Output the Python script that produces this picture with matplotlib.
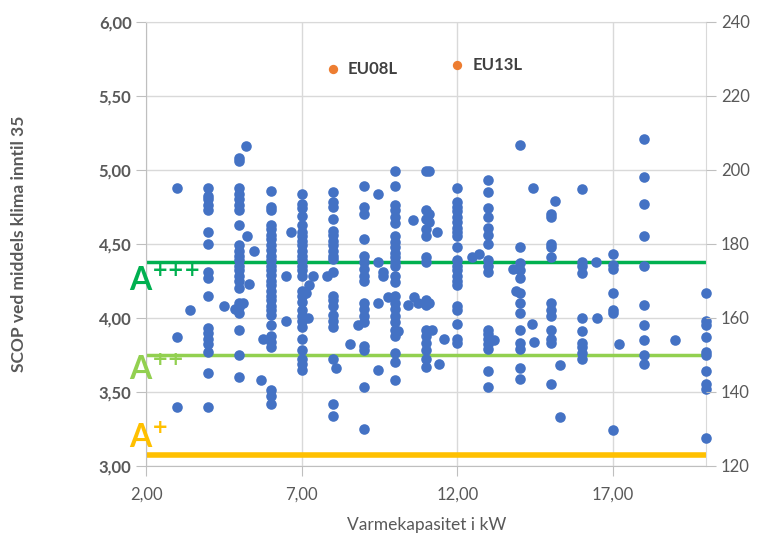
import numpy as np
import matplotlib.pyplot as plt

plt.rcParams['font.family'] = ['Lato', 'DejaVu Sans']

# SCOP values per heat pump, grouped by rated capacity (kW)
kw3 = [4.88, 3.87, 3.40]
kw4 = [4.88, 4.82, 4.80, 4.76, 4.73, 4.58, 4.50, 4.31, 4.27, 4.15, 3.93, 3.90,
       3.86, 3.82, 3.77, 3.63, 3.40]
kw5 = [5.08, 5.06, 4.88, 4.84, 4.80, 4.76, 4.73, 4.63, 4.49, 4.45, 4.42, 4.39,
       4.35, 4.32, 4.28, 4.25, 4.20, 4.10, 4.07, 4.03, 3.92, 3.75, 3.60]
kw6 = [4.86, 4.75, 4.73, 4.63, 4.60, 4.56, 4.53, 4.49, 4.46, 4.42, 4.39, 4.35,
       4.32, 4.29, 4.25, 4.22, 4.18, 4.15, 4.12, 4.08, 4.05, 4.02, 3.95, 3.88,
       3.84, 3.80, 3.51, 3.47, 3.42]
kw7 = [4.84, 4.77, 4.74, 4.69, 4.63, 4.58, 4.55, 4.52, 4.49, 4.45, 4.42, 4.39,
       4.35, 4.32, 4.28, 4.18, 4.15, 4.11, 4.05, 4.01, 3.98, 3.94, 3.86, 3.78,
       3.72, 3.69, 3.65]
kw8 = [4.85, 4.78, 4.75, 4.67, 4.59, 4.56, 4.52, 4.49, 4.45, 4.42, 4.40, 4.31,
       4.15, 4.12, 4.08, 4.02, 3.98, 3.94, 3.72, 3.42, 3.34]
kw9 = [4.89, 4.75, 4.70, 4.53, 4.42, 4.38, 4.33, 4.28, 4.25, 4.10, 4.06, 4.01,
       3.97, 3.81, 3.78, 3.53, 3.25]
kw10 = [4.99, 4.89, 4.76, 4.73, 4.68, 4.64, 4.55, 4.51, 4.48, 4.44, 4.41, 4.38,
        4.35, 4.28, 4.24, 4.15, 4.10, 4.06, 4.01, 3.97, 3.92, 3.88, 3.76, 3.70,
        3.58]
kw11 = [4.99, 4.73, 4.67, 4.60, 4.55, 4.41, 4.38, 4.12, 4.09, 3.92, 3.88, 3.83,
        3.78, 3.72, 3.67]
kw12 = [4.88, 4.78, 4.75, 4.72, 4.68, 4.65, 4.61, 4.58, 4.55, 4.48, 4.39, 4.35,
        4.32, 4.28, 4.25, 4.22, 4.08, 4.05, 3.96, 3.86, 3.83]
kw13 = [4.93, 4.85, 4.74, 4.68, 4.61, 4.56, 4.50, 4.39, 4.35, 4.31, 3.92, 3.89,
        3.86, 3.82, 3.79, 3.64, 3.53]
kw14 = [5.17, 4.48, 4.37, 4.32, 4.27, 4.17, 4.10, 4.03, 3.92, 3.83, 3.79, 3.66,
        3.59]
kw15 = [4.70, 4.68, 4.50, 4.48, 4.41, 4.10, 4.05, 4.01, 3.92, 3.86, 3.83, 3.55]
kw16 = [4.87, 4.38, 4.35, 4.30, 4.00, 3.91, 3.83, 3.80, 3.76, 3.72]
kw17 = [4.43, 4.36, 4.33, 4.17, 4.05, 4.03, 3.24]
kw18 = [5.21, 4.95, 4.77, 4.55, 4.35, 4.09, 3.95, 3.85, 3.75, 3.69]
kw20 = [4.17, 3.98, 3.95, 3.87, 3.77, 3.75, 3.64, 3.55, 3.52, 3.19]

# units with capacities between the round values
other_kw = [3.4, 4.5, 4.85, 5.1, 5.2, 5.25, 5.48, 5.32, 5.7, 5.75, 6.48, 6.48,
            6.66, 7.35, 7.25, 7.15, 7.2, 7.8, 8.1, 8.56, 8.8, 9.44, 9.44, 9.6,
            9.6, 9.44, 9.44, 9.77, 10.1, 10.57, 10.4, 10.6, 10.75, 11.1, 11.1,
            11.1, 11.1, 11.2, 11.36, 11.57, 11.4, 12.48, 12.7, 13.18, 13.8,
            13.87, 14.43, 14.4, 14.45, 15.13, 15.3, 15.3, 16.46, 16.5, 17.18,
            18.98]
other_scop = [4.05, 4.08, 4.06, 4.10, 5.16, 4.55, 4.45, 4.23, 3.58, 3.86, 4.28,
              3.98, 4.58, 4.28, 4.22, 4.17, 4.00, 4.28, 3.66, 3.82, 3.95, 4.84,
              4.38, 4.31, 4.28, 4.10, 3.65, 4.14, 3.91, 4.66, 4.09, 4.14, 4.10,
              4.99, 4.70, 4.65, 4.10, 3.92, 4.58, 3.86, 3.69, 4.41, 4.43, 3.85,
              4.33, 4.18, 4.88, 3.96, 3.84, 4.79, 3.68, 3.33, 4.375, 4.00, 3.82,
              3.85]

eu_names = ['EU08L', 'EU13L']
eu_kw = [8.0, 12.0]
eu_scop = [5.68, 5.71]

class_names = ['+++', '++', '+']
class_limits = [4.375, 3.75, 3.075]
class_colors = ['#00B050', '#92D050', '#FFC000']

groups = [(3, kw3), (4, kw4), (5, kw5), (6, kw6), (7, kw7), (8, kw8), (9, kw9),
          (10, kw10), (11, kw11), (12, kw12), (13, kw13), (14, kw14),
          (15, kw15), (16, kw16), (17, kw17), (18, kw18), (20, kw20)]
x = np.concatenate([[k] * len(v) for k, v in groups] + [other_kw])
y = np.concatenate([v for k, v in groups] + [other_scop])

grey = '#595959'
fig = plt.figure(figsize=(7.57, 5.33), dpi=100)
ax = fig.add_axes([0.193, 0.126, 0.74, 0.833])

lw = [2.5, 2.5, 4]
for lim, col, w in zip(class_limits, class_colors, lw):
    ax.plot([2, 20], [lim, lim], color=col, lw=w, zorder=2,
            solid_capstyle='butt')

ax.scatter(x, y, s=58, color='#4472C4', zorder=3, clip_on=False,
           linewidths=0)
ax.scatter(eu_kw, eu_scop, s=45, color='#ED7D31', zorder=3, linewidths=0)
for n, xx, yy in zip(eu_names, eu_kw, eu_scop):
    ax.annotate(n, (xx, yy), xytext=(11, 0), textcoords='offset points',
                va='center', ha='left', fontsize=12, fontweight='bold',
                color='#404040')

# energy class labels
label_y = [4.19, 3.59, 3.13]
for name, yy, col in zip(class_names, label_y, class_colors):
    ax.text(1.47, yy, 'A', color=col, fontsize=23, fontweight='bold',
            va='baseline', ha='left', clip_on=False, zorder=4)
    ax.annotate(name, (1.47, yy), xytext=(16, 13.5),
                textcoords='offset points', color=col, fontsize=14,
                fontweight='bold', family='DejaVu Sans', va='center',
                ha='left', annotation_clip=False, zorder=4)

ax.set_xlim(2, 20)
ax.set_ylim(3, 6)
ax.set_xticks([2, 7, 12, 17])
ax.set_xticklabels(['2,00', '7,00', '12,00', '17,00'])
yt = np.arange(3, 6.01, 0.5)
ax.set_yticks(yt)
ax.set_yticklabels([f'{v:.2f}'.replace('.', ',') for v in yt],
                   fontweight='bold')
ax.grid(True, color='#D9D9D9', lw=1, zorder=0)
ax.set_axisbelow(True)
for s in ['top', 'right']:
    ax.spines[s].set_color('#D9D9D9')
for s in ['left', 'bottom']:
    ax.spines[s].set_color('#BFBFBF')
ax.tick_params(axis='both', colors='#BFBFBF', labelcolor=grey,
               labelsize=12, length=7)
ax.tick_params(axis='x', pad=8)
ax.set_xlabel('Varmekapasitet i kW', fontsize=12.5, color=grey, labelpad=10)
ax.set_ylabel('SCOP ved middels klima inntil 35', fontsize=12.5,
              fontweight='bold', color=grey, labelpad=52)

ax2 = ax.twinx()
ax2.set_ylim(120, 240)
ax2.set_yticks(np.arange(120, 241, 20))
ax2.tick_params(colors='#BFBFBF', labelcolor=grey, labelsize=12, length=7)
for s in ax2.spines.values():
    s.set_visible(False)

fig.savefig('out.png', dpi=100)
